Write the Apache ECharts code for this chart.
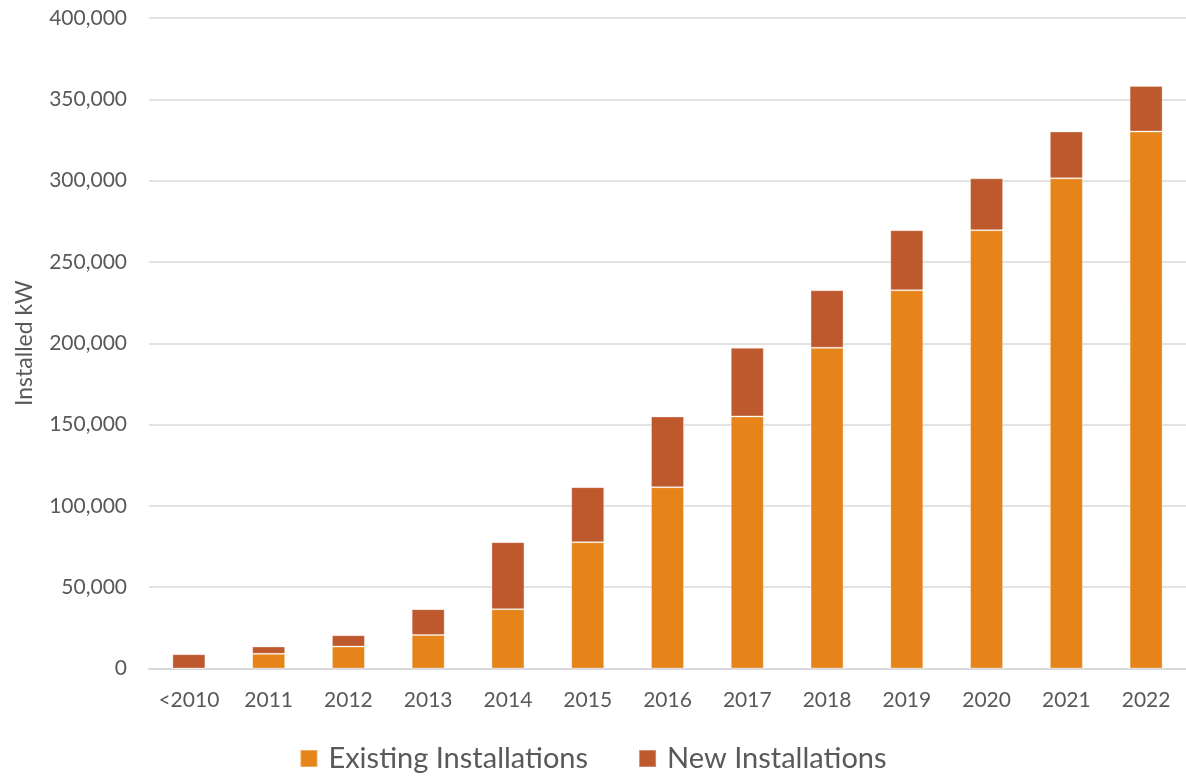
<!DOCTYPE html>
<html>
<head>
<meta charset="utf-8">
<script src="https://cdn.jsdelivr.net/npm/echarts@6/dist/echarts.min.js"></script>
<style>html,body{margin:0;padding:0;background:#fff;}#c{width:1186px;height:778px;}</style>
</head>
<body>
<div id="c"></div>
<script>
const categories = ['<2010','2011','2012','2013','2014','2015','2016','2017','2018','2019','2020','2021','2022'];
const existing = [0, 9000, 13500, 20600, 36500, 77700, 111500, 155000, 197200, 232600, 269500, 301400, 330200];
const newInst = [8800, 4500, 7000, 15900, 41200, 33800, 43500, 42200, 35400, 36900, 31900, 28800, 28000];
const yTicks = {min: 0, max: 400000, interval: 50000};

const font = 'Lato, "Open Sans", sans-serif';
const chart = echarts.init(document.getElementById('c'));
chart.setOption({
  animation: false,
  grid: {left: 149, top: 18, width: 1046, bottom: 109.5, containLabel: false},
  legend: {
    bottom: 0, left: 'center', itemWidth: 17, itemHeight: 17, itemGap: 50, icon: 'rect',
    textStyle: {color: '#595959', fontSize: 29, fontFamily: font, padding: [0, 0, 0, 6]},
    data: ['Existing Installations', 'New Installations']
  },
  xAxis: {
    type: 'category', data: categories,
    axisLine: {lineStyle: {color: '#D9D9D9', width: 2}},
    axisTick: {show: false},
    axisLabel: {color: '#595959', fontSize: 21, fontFamily: font, margin: 21}
  },
  yAxis: {
    type: 'value', min: yTicks.min, max: yTicks.max, interval: yTicks.interval,
    name: 'Installed kW', nameLocation: 'middle', nameGap: 113, nameRotate: 90,
    nameTextStyle: {color: '#595959', fontSize: 23, fontFamily: font},
    axisLine: {show: false}, axisTick: {show: false},
    splitLine: {lineStyle: {color: '#D9D9D9', width: 1.5}},
    axisLabel: {color: '#595959', fontSize: 21, fontFamily: font, margin: 22,
      formatter: v => v.toLocaleString('en-US')}
  },
  series: [
    {name: 'Existing Installations', type: 'bar', stack: 't', data: existing, barWidth: 33,
      itemStyle: {color: '#E6841A', borderColor: 'rgba(255,255,255,0.3)', borderWidth: 1}},
    {name: 'New Installations', type: 'bar', stack: 't', data: newInst, barWidth: 33,
      itemStyle: {color: '#BE582D', borderColor: 'rgba(255,255,255,0.3)', borderWidth: 1}}
  ]
});
</script>
</body>
</html>
